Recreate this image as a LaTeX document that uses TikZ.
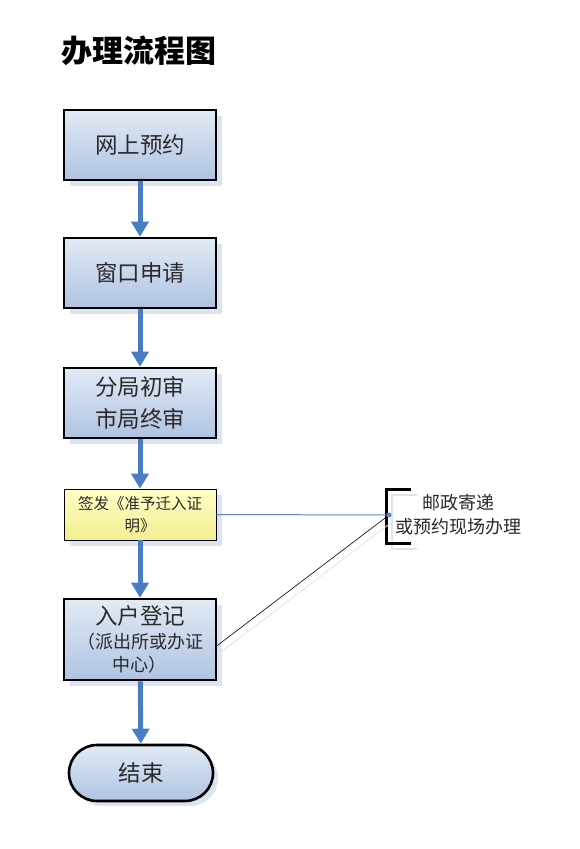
\documentclass[tikz,border=0pt]{standalone}
\usepackage{fontspec}
\setmainfont{Noto Sans CJK SC}
\usetikzlibrary{arrows.meta,shadows}
\definecolor{boxtop}{HTML}{E2EAF5}
\definecolor{boxbot}{HTML}{AFC3E2}
\definecolor{shadowblue}{HTML}{DCE4EF}
\definecolor{flowblue}{HTML}{4A7CC4}
\definecolor{linkblue}{HTML}{5B86C6}
\definecolor{ytop}{HTML}{FFFFC8}
\definecolor{ybot}{HTML}{F2EE90}
\definecolor{txt}{HTML}{2A2A2A}
\tikzset{
  stepbox/.style={draw=black, line width=2.6pt, minimum width=152pt, minimum height=70pt,
    top color=boxtop, bottom color=boxbot, text=txt, align=center, inner sep=0pt,
    general shadow={shadow xshift=6pt, shadow yshift=-6pt, fill=shadowblue}},
  signbox/.style={draw=black, line width=0.7pt, minimum width=152pt, minimum height=51pt,
    top color=ytop, bottom color=ybot, text=txt, align=center, inner sep=0pt,
    general shadow={shadow xshift=6pt, shadow yshift=-6pt, fill=shadowblue}},
  endbox/.style={draw=black, line width=2.6pt, minimum width=144pt, minimum height=56pt,
    rounded corners=28pt, top color=boxtop, bottom color=boxbot, text=txt, inner sep=0pt,
    general shadow={shadow xshift=5pt, shadow yshift=-5pt, fill=shadowblue}},
  flow/.style={draw=flowblue, line width=5pt, -{Triangle[width=17pt,length=15pt]}},
  big/.style={font=\fontsize{22.5}{32}\selectfont},
  note/.style={font=\fontsize{18}{20}\selectfont, text=txt},
}
\begin{document}
\begin{tikzpicture}[x=1pt,y=-1pt]
\useasboundingbox[fill=white] (0,0) rectangle (579,849);
\node[font=\fontsize{31}{36}\selectfont\bfseries, text=black] (title) at (139,51) {办理流程图};

\node[stepbox, big] (b1) at (140,145) {网上预约};
\node[stepbox, big] (b2) at (140,273) {窗口申请};
\node[stepbox, big] (b3) at (140,403) {分局初审\\市局终审};
\node[signbox, font=\fontsize{15.5}{22}\selectfont] (b4) at (140,514.5) {签发《准予迁入证\\明》};
\node[stepbox, minimum height=81pt] (b5) at (140,639.5) {{\fontsize{22.5}{24}\selectfont 入户登记}\\[5pt]
  {\fontsize{18}{24}\selectfont （派出所或办证}\\[5pt]{\fontsize{18}{24}\selectfont 中心）}};
\node[endbox, big] (b6) at (141,773) {结束};

\draw[flow] (b1) -- (b2);
\draw[flow] (b2) -- (b3);
\draw[flow] (b3) -- (b4);
\draw[flow] (b4) -- (b5);
\draw[flow] (b5) -- (b6);

% bracket annotation
\coordinate (dot) at (389,515);
\draw[shadowblue, line width=2.6pt] (417,495) -- (392,495) -- (392,549) -- (417,549);
\draw[black, line width=3pt] (411,489) -- (386,489) -- (386,543) -- (411,543);
\node[note] (n1) at (458.5,503) {邮政寄递};
\node[note] (n2) at (458.5,527) {或预约现场办理};

\coordinate (b5r) at ([yshift=-6pt]b5.east);
\draw[shadowblue, line width=0.8pt] ([xshift=3pt,yshift=-7pt]b5r) -- ([xshift=3pt,yshift=-7pt]dot);
\draw[linkblue, line width=1pt] (b4.east) -- (dot);
\draw[black, line width=0.6pt] (b5r) -- (dot);
\fill[linkblue] (dot) circle (2.5pt);
\end{tikzpicture}
\end{document}
